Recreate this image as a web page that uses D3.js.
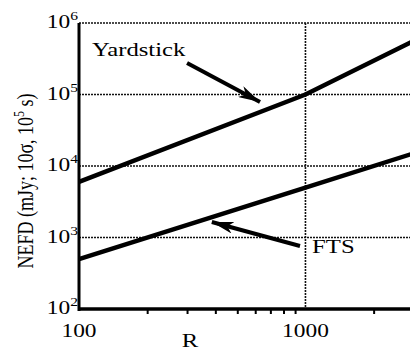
<!DOCTYPE html>
<html>
<head>
<meta charset="utf-8">
<script src="https://cdn.jsdelivr.net/npm/d3@7"></script>
<style>
  body { margin: 0; background: #fff; }
  text { font-family: "Liberation Serif", "DejaVu Serif", serif; fill: #000; }
</style>
</head>
<body>
<div id="chart"></div>
<script>
// Data
const rValues = [100, 1000, 3000];
const yardstick = [6000, 100000, 560000];
const fts = [500, 5000, 15000];
const xTickLabels = [100, 1000];
const xMinorTicks = [200, 300, 400, 500, 600, 700, 800, 900, 2000];
const yDecades = [100, 1000, 10000, 100000, 1000000];
const yExponents = ["2", "3", "4", "5", "6"];

const width = 410, height = 351;
const stretch = 1.3; // the scan is wider than tall

const svg = d3.select("#chart").append("svg")
    .attr("width", width)
    .attr("height", height);

// scales
const x = d3.scaleLog().domain([100, 3000]).range([79, 413.5]);
const y = d3.scaleLog().domain([100, 1000000]).range([309, 23]);

// arrow marker
svg.append("defs").append("marker")
    .attr("id", "head")
    .attr("markerUnits", "userSpaceOnUse")
    .attr("viewBox", "0 0 22 12")
    .attr("refX", 22).attr("refY", 6)
    .attr("markerWidth", 22).attr("markerHeight", 12)
    .attr("orient", "auto")
  .append("path")
    .attr("d", "M0,0 L22,6 L0,12 L6,6 Z")
    .attr("fill", "#000");

// horizontal gridlines (dotted)
svg.append("g").selectAll("line")
  .data(yDecades.slice(1))
  .join("line")
    .attr("x1", x(100)).attr("x2", width)
    .attr("y1", d => y(d)).attr("y2", d => y(d))
    .attr("stroke", "#111")
    .attr("stroke-width", 1.6)
    .attr("stroke-dasharray", "2,1");

// vertical gridline at 1000
svg.append("line")
    .attr("x1", x(1000)).attr("x2", x(1000))
    .attr("y1", y(1000000)).attr("y2", y(100))
    .attr("stroke", "#111")
    .attr("stroke-width", 1.6)
    .attr("stroke-dasharray", "2,1");

// the two curves
const line = d3.line()
    .x((d, i) => x(rValues[i]))
    .y(d => y(d));

[yardstick, fts].forEach(series => {
  svg.append("path")
      .datum(series)
      .attr("fill", "none")
      .attr("stroke", "#000")
      .attr("stroke-width", 4.5)
      .attr("d", line);
});

// x axis minor ticks
const xAxis = d3.axisBottom(x)
    .tickValues(xMinorTicks)
    .tickSize(5)
    .tickFormat("");
const gx = svg.append("g")
    .attr("transform", `translate(0,${y(100)})`)
    .call(xAxis);
gx.select(".domain").remove();
gx.selectAll(".tick line").attr("stroke", "#000").attr("stroke-width", 2);

svg.append("line")
    .attr("x1", x(100) - 1).attr("x2", width)
    .attr("y1", y(100)).attr("y2", y(100))
    .attr("stroke", "#000").attr("stroke-width", 3.5);

// y axis line
svg.append("line")
    .attr("x1", x(100)).attr("x2", x(100))
    .attr("y1", y(1000000)).attr("y2", y(100) + 2)
    .attr("stroke", "#000").attr("stroke-width", 3);

// helper: horizontally stretched text
function label(px, py, size, anchor) {
  return svg.append("text")
      .attr("transform", `translate(${px},${py}) scale(${stretch},1)`)
      .attr("text-anchor", anchor || "start")
      .attr("font-size", size);
}

// x tick labels
xTickLabels.forEach(d => {
  label(x(d), 337, 18, "middle").text(d);
});

// y tick labels: 10 with superscript exponent
yDecades.forEach((d, i) => {
  const t = label(78, y(d) + 5, 18, "end");
  t.append("tspan").text("10");
  t.append("tspan")
      .attr("font-size", 12)
      .attr("dy", -8)
      .text(yExponents[i]);
});

// axis titles
label(190, 347, 19, "middle").text("R");

const yTitle = svg.append("text")
    .attr("transform", `translate(33,${y(10000) + 15}) rotate(-90) scale(1,${stretch})`)
    .attr("text-anchor", "middle")
    .attr("font-size", 18);
yTitle.append("tspan").text("NEFD (mJy; 10σ, 10");
yTitle.append("tspan").attr("font-size", 12).attr("dy", -7).text("5");
yTitle.append("tspan").attr("dy", 7).text(" s)");

// annotations
label(x(114), y(340000), 19).text("Yardstick");

svg.append("line")
    .attr("x1", x(300)).attr("y1", y(275000))
    .attr("x2", x(630)).attr("y2", y(78500))
    .attr("stroke", "#000").attr("stroke-width", 4)
    .attr("marker-end", "url(#head)");

label(x(1070), y(607), 19).text("FTS");

svg.append("line")
    .attr("x1", x(946)).attr("y1", y(760))
    .attr("x2", x(386)).attr("y2", y(1650))
    .attr("stroke", "#000").attr("stroke-width", 4)
    .attr("marker-end", "url(#head)");
</script>
</body>
</html>
